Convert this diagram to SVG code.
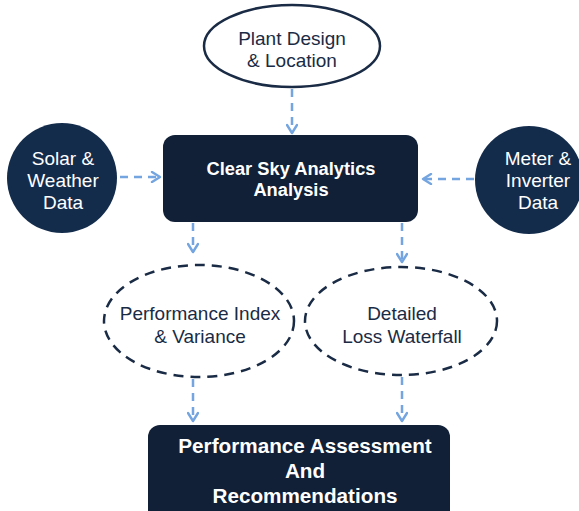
<svg xmlns="http://www.w3.org/2000/svg" width="579" height="511" viewBox="0 0 579 511">
  <defs>
    <marker id="chev" viewBox="0 0 12 12" refX="10" refY="6" markerWidth="12" markerHeight="12" markerUnits="userSpaceOnUse" orient="auto">
      <path d="M2,1 L10,6 L2,11" fill="none" stroke="#74a5e0" stroke-width="2.4" stroke-linecap="round" stroke-linejoin="round"/>
    </marker>
  </defs>
  <style>
    .flow { fill: none; stroke: #74a5e0; stroke-width: 2.5; stroke-dasharray: 8 6; marker-end: url(#chev); }
    .box { fill: #112037; }
    .disc { fill: #142c4c; }
    .oval { fill: #ffffff; stroke: #1a2b45; stroke-width: 2.5; }
    .dashed { stroke-dasharray: 10 7; }
    .lbl { font-family: "Liberation Sans", Arial, sans-serif; font-size: 19px; text-anchor: middle; }
    .dark { fill: #1a2b45; }
    .light { fill: #ffffff; }
    .bold { font-weight: bold; }
  </style>

  <g id="connectors">
    <path class="flow" d="M292,89 L292,133"/>
    <path class="flow" d="M120,177 L160,177"/>
    <path class="flow" d="M474,179 L423,179"/>
    <path class="flow" d="M193,223 L193,252"/>
    <path class="flow" d="M402,223 L402,262"/>
    <path class="flow" d="M193,379 L193,421"/>
    <path class="flow" d="M402,377 L402,421"/>
  </g>

  <g id="plant-design">
    <ellipse class="oval" cx="292" cy="46" rx="88" ry="41"/>
    <text class="lbl dark" x="292" y="45">Plant Design</text>
    <text class="lbl dark" x="292" y="67">&amp; Location</text>
  </g>

  <g id="solar-weather">
    <circle class="disc" cx="62" cy="178" r="55"/>
    <text class="lbl light" x="63" y="165">Solar &amp;</text>
    <text class="lbl light" x="63" y="187">Weather</text>
    <text class="lbl light" x="63" y="209">Data</text>
  </g>

  <g id="meter-inverter">
    <circle class="disc" cx="529" cy="180" r="54"/>
    <text class="lbl light" x="538" y="165">Meter &amp;</text>
    <text class="lbl light" x="538" y="187">Inverter</text>
    <text class="lbl light" x="538" y="209">Data</text>
  </g>

  <g id="clear-sky">
    <rect class="box" x="163" y="135" width="255" height="87" rx="12"/>
    <text class="lbl light bold" x="291" y="175" style="font-size:18.3px">Clear Sky Analytics</text>
    <text class="lbl light bold" x="291" y="196" style="font-size:18.3px">Analysis</text>
  </g>

  <g id="performance-index">
    <ellipse class="oval dashed" cx="199" cy="321" rx="95" ry="56"/>
    <text class="lbl dark" x="200" y="320">Performance Index</text>
    <text class="lbl dark" x="200" y="343">&amp; Variance</text>
  </g>

  <g id="loss-waterfall">
    <ellipse class="oval dashed" cx="401" cy="321" rx="96" ry="54"/>
    <text class="lbl dark" x="402" y="320">Detailed</text>
    <text class="lbl dark" x="402" y="343">Loss Waterfall</text>
  </g>

  <g id="assessment">
    <rect class="box" x="148" y="425" width="302" height="100" rx="12"/>
    <text class="lbl light bold" x="305" y="453" style="font-size:20.7px">Performance Assessment</text>
    <text class="lbl light bold" x="305" y="478" style="font-size:20.7px">And</text>
    <text class="lbl light bold" x="305" y="503" style="font-size:20.7px">Recommendations</text>
  </g>
</svg>
